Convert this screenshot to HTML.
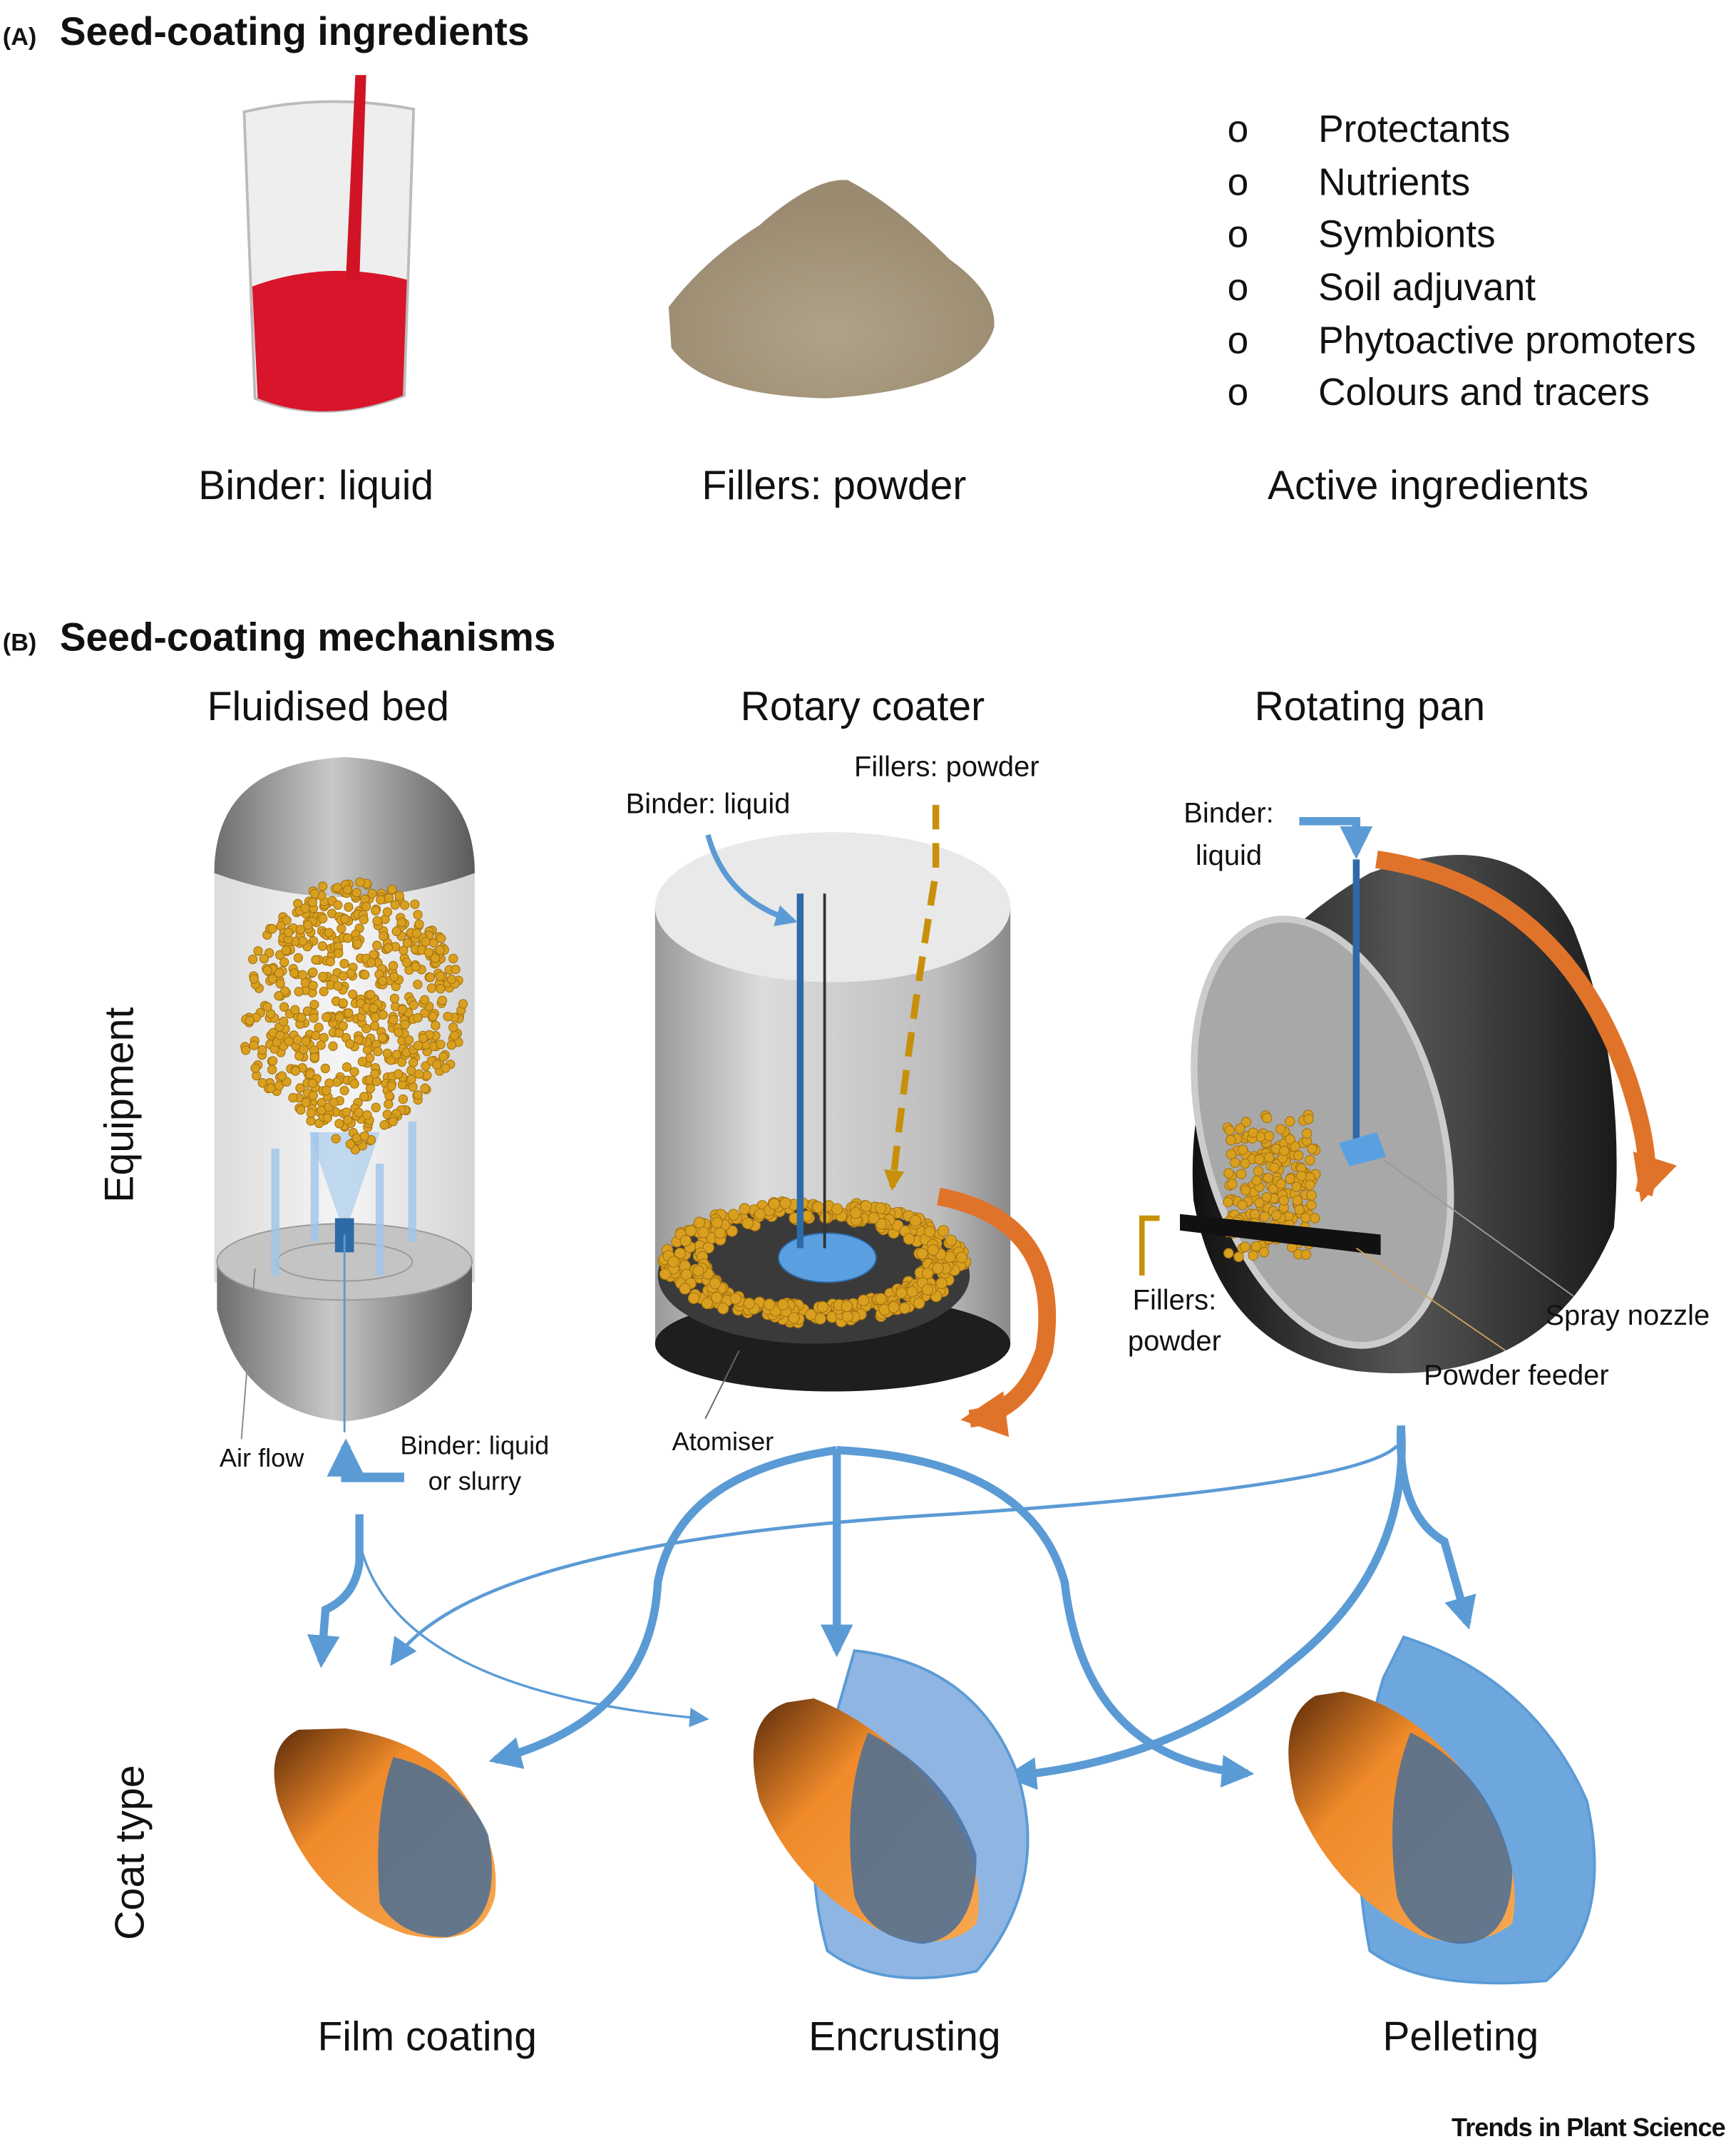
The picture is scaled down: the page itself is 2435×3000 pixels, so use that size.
<!DOCTYPE html>
<html><head><meta charset="utf-8">
<style>
html,body{margin:0;padding:0;background:#fff;}
svg{display:block;}
text{font-family:"Liberation Sans","DejaVu Sans",sans-serif;fill:#111;}
</style></head>
<body>
<svg id="s" width="2435" height="3000" viewBox="0 0 1280 1568" preserveAspectRatio="none" xmlns="http://www.w3.org/2000/svg">
<defs>
<linearGradient id="glass" x1="0" x2="1"><stop offset="0" stop-color="#d8d8d8"/><stop offset="0.5" stop-color="#f4f4f4"/><stop offset="1" stop-color="#cfcfcf"/></linearGradient>
<linearGradient id="metal" x1="0" x2="1"><stop offset="0" stop-color="#6e6e6e"/><stop offset="0.45" stop-color="#c8c8c8"/><stop offset="1" stop-color="#5a5a5a"/></linearGradient>
<linearGradient id="cyl" x1="0" x2="1"><stop offset="0" stop-color="#9a9a9a"/><stop offset="0.3" stop-color="#dcdcdc"/><stop offset="0.8" stop-color="#bdbdbd"/><stop offset="1" stop-color="#8a8a8a"/></linearGradient>
<linearGradient id="seed" x1="0" y1="0" x2="1" y2="1"><stop offset="0" stop-color="#5a2a08"/><stop offset="0.35" stop-color="#f08a2a"/><stop offset="1" stop-color="#f7a850"/></linearGradient>
<linearGradient id="ring" x1="0" x2="1"><stop offset="0" stop-color="#111"/><stop offset="0.5" stop-color="#555"/><stop offset="1" stop-color="#1a1a1a"/></linearGradient>
<radialGradient id="pow" cx="0.5" cy="0.7" r="0.6"><stop offset="0" stop-color="#b0a288"/><stop offset="1" stop-color="#9a8b70"/></radialGradient>
<marker id="ab" viewBox="0 0 10 10" refX="8" refY="5" markerWidth="4" markerHeight="4" orient="auto"><path d="M0,0 L10,5 L0,10 z" fill="#5b9bd5"/></marker>
<marker id="ao" viewBox="0 0 10 10" refX="8" refY="5" markerWidth="2.6" markerHeight="2.6" orient="auto"><path d="M0,0 L10,5 L0,10 z" fill="#e0732a"/></marker>
<marker id="ab2" viewBox="0 0 10 10" refX="8" refY="5" markerWidth="8" markerHeight="8" orient="auto"><path d="M0,0 L10,5 L0,10 z" fill="#5b9bd5"/></marker>
<marker id="ay" viewBox="0 0 10 10" refX="8" refY="5" markerWidth="3" markerHeight="3" orient="auto"><path d="M0,0 L10,5 L0,10 z" fill="#c8900a"/></marker>
</defs>

<!-- (A) -->
<text x="2" y="33" font-size="18" font-weight="bold">(A)</text>
<text x="44" y="33" font-size="29" font-weight="bold">Seed-coating ingredients</text>
<path d="M180,82 Q240,68 305,80 L298,290 Q240,312 188,292 Z" fill="#eeeeee" stroke="#bbb" stroke-width="2"/>
<path d="M186,210 Q240,190 300,205 L297,290 Q240,312 190,292 Z" fill="#d8152a"/>
<path d="M262,55 L270,55 L265,205 L255,205 Z" fill="#d01426"/>
<text x="233" y="366" font-size="30" text-anchor="middle">Binder: liquid</text>
<path d="M493,225 Q520,190 560,165 Q600,130 625,132 Q660,150 700,190 Q735,215 733,240 Q720,285 610,292 Q520,290 495,255 Z" fill="url(#pow)"/>
<text x="615" y="366" font-size="30" text-anchor="middle">Fillers: powder</text>
<g font-size="28">
<text x="905" y="104">o</text><text x="972" y="104">Protectants</text>
<text x="905" y="143">o</text><text x="972" y="143">Nutrients</text>
<text x="905" y="181">o</text><text x="972" y="181">Symbionts</text>
<text x="905" y="220">o</text><text x="972" y="220">Soil adjuvant</text>
<text x="905" y="259">o</text><text x="972" y="259">Phytoactive promoters</text>
<text x="905" y="297">o</text><text x="972" y="297">Colours and tracers</text>
</g>
<text x="1053" y="366" font-size="30" text-anchor="middle">Active ingredients</text>

<!-- (B) -->
<text x="2" y="477" font-size="18" font-weight="bold">(B)</text>
<text x="44" y="477" font-size="29" font-weight="bold">Seed-coating mechanisms</text>
<text x="242" y="528" font-size="30" text-anchor="middle">Fluidised bed</text>
<text x="636" y="528" font-size="30" text-anchor="middle">Rotary coater</text>
<text x="1010" y="528" font-size="30" text-anchor="middle">Rotating pan</text>
<text transform="translate(98,810) rotate(-90)" font-size="30" text-anchor="middle">Equipment</text>
<text transform="translate(106,1358) rotate(-90)" font-size="30" text-anchor="middle">Coat type</text>

<!-- fluidised bed -->
<rect x="158" y="630" width="192" height="310" fill="url(#glass)" opacity="0.9"/>
<path d="M158,640 Q158,560 254,555 Q350,560 350,640 Q254,675 158,640 Z" fill="url(#metal)"/>
<path d="M160,925 Q254,895 348,925 L348,960 Q330,1035 254,1042 Q178,1035 160,960 Z" fill="url(#metal)"/>
<ellipse cx="254" cy="925" rx="94" ry="28" fill="#c4c4c4" stroke="#999"/>
<ellipse cx="254" cy="925" rx="50" ry="14" fill="none" stroke="#999"/>
<path d="M254,905 L228,830 L280,830 Z" fill="#9fc6ea" opacity="0.6"/>
<rect x="247" y="893" width="14" height="25" fill="#2e6aa8"/>
<g stroke="#9fc6ea" stroke-width="6" fill="none" opacity="0.8">
<line x1="203" y1="935" x2="203" y2="842"/><line x1="280" y1="935" x2="280" y2="853"/><line x1="304" y1="910" x2="304" y2="822"/><line x1="232" y1="910" x2="232" y2="830"/></g>
<line x1="254" y1="905" x2="254" y2="1050" stroke="#5b9bd5" stroke-width="1.5"/>
<line x1="178" y1="1055" x2="188" y2="930" stroke="#888" stroke-width="1"/>
<g id="fbdots"></g>
<text x="193" y="1075" font-size="19" text-anchor="middle">Air flow</text>
<text x="350" y="1066" font-size="19" text-anchor="middle">Binder: liquid</text>
<text x="350" y="1092" font-size="19" text-anchor="middle">or slurry</text>
<path d="M298,1083 L255,1083 L255,1060" fill="none" stroke="#5b9bd5" stroke-width="7" marker-end="url(#ab)"/>

<!-- rotary coater -->
<rect x="483" y="665" width="262" height="318" fill="url(#cyl)"/>
<ellipse cx="614" cy="665" rx="131" ry="55" fill="#e9e9e9"/>
<ellipse cx="614" cy="985" rx="131" ry="35" fill="#1e1e1e"/>
<ellipse cx="600" cy="935" rx="115" ry="50" fill="#3a3a3a"/>
<g id="rcdots"></g>
<ellipse cx="610" cy="922" rx="36" ry="18" fill="#5aa0e0" stroke="#2e6aa8"/>
<line x1="590" y1="655" x2="590" y2="915" stroke="#2e6aa8" stroke-width="5"/>
<line x1="608" y1="655" x2="608" y2="915" stroke="#333" stroke-width="2"/>
<path d="M522,612 Q535,660 585,675" fill="none" stroke="#5b9bd5" stroke-width="4" marker-end="url(#ab)"/>
<path d="M690,590 L690,640 Q670,760 658,870" fill="none" stroke="#c8900a" stroke-width="5" stroke-dasharray="18,10" marker-end="url(#ay)"/>
<path d="M692,877 Q785,895 770,990 Q755,1035 715,1040" fill="none" stroke="#e0732a" stroke-width="13" marker-end="url(#ao)" />
<text x="522" y="596" font-size="21" text-anchor="middle">Binder: liquid</text>
<text x="698" y="569" font-size="21" text-anchor="middle">Fillers: powder</text>
<line x1="520" y1="1040" x2="545" y2="990" stroke="#666" stroke-width="1"/>
<text x="533" y="1063" font-size="19" text-anchor="middle">Atomiser</text>

<!-- rotating pan -->
<path d="M1010,640 Q1120,600 1160,680 Q1200,780 1190,900 Q1140,1020 1000,1005 Q900,990 880,880 Q870,720 1010,640 Z" fill="url(#ring)"/>
<ellipse cx="975" cy="830" rx="88" ry="160" transform="rotate(-15 975 830)" fill="#a8a8a8" stroke="#ccc" stroke-width="5"/>
<g id="rpdots"></g>
<line x1="1000" y1="630" x2="1000" y2="840" stroke="#2e6aa8" stroke-width="5"/>
<path d="M987,838 L1015,830 L1022,848 L995,855 Z" fill="#5aa0e0"/>
<path d="M870,890 L1018,905 L1018,920 L870,902 Z" fill="#111"/>
<path d="M958,602 L1000,602 L1000,625" fill="none" stroke="#5b9bd5" stroke-width="6" marker-end="url(#ab)"/>
<path d="M1015,630 Q1150,650 1200,790 Q1220,850 1212,875" fill="none" stroke="#e0732a" stroke-width="13" marker-end="url(#ao)"/>
<path d="M842,935 L842,893 L855,893" fill="none" stroke="#c8900a" stroke-width="4"/>
<line x1="1020" y1="850" x2="1160" y2="950" stroke="#999" stroke-width="1"/>
<line x1="1000" y1="915" x2="1110" y2="990" stroke="#c8a060" stroke-width="1"/>
<text x="906" y="603" font-size="21" text-anchor="middle">Binder:</text>
<text x="906" y="634" font-size="21" text-anchor="middle">liquid</text>
<text x="866" y="960" font-size="21" text-anchor="middle">Fillers:</text>
<text x="866" y="990" font-size="21" text-anchor="middle">powder</text>
<text x="1200" y="971" font-size="21" text-anchor="middle">Spray nozzle</text>
<text x="1118" y="1015" font-size="21" text-anchor="middle">Powder feeder</text>

<!-- connectors -->
<g fill="none" stroke="#5b9bd5">
<path d="M265,1110 L265,1145 Q262,1170 240,1180 L237,1218" stroke-width="6" marker-end="url(#ab)"/>
<path d="M265,1130 Q290,1240 520,1260" stroke-width="1.8" marker-end="url(#ab2)"/>
<path d="M1030,1060 Q1000,1090 700,1110 Q350,1130 290,1218" stroke-width="2.5" marker-end="url(#ab2)"/>
<path d="M617,1063 L617,1210" stroke-width="6" marker-end="url(#ab)"/>
<path d="M617,1063 Q500,1080 485,1160 Q480,1260 365,1290" stroke-width="6" marker-end="url(#ab)"/>
<path d="M617,1063 Q760,1070 785,1160 Q800,1290 920,1300" stroke-width="6" marker-end="url(#ab)"/>
<path d="M1033,1045 Q1040,1150 950,1220 Q870,1290 745,1302" stroke-width="6" marker-end="url(#ab)"/>
<path d="M1033,1045 Q1030,1110 1065,1130 L1082,1190" stroke-width="6" marker-end="url(#ab)"/>
</g>

<!-- seeds -->
<path d="M255,1267 Q305,1275 330,1300 Q370,1345 365,1390 Q355,1430 300,1418 Q230,1395 205,1320 Q195,1280 220,1268 Z" fill="url(#seed)"/>
<path d="M290,1288 Q340,1300 360,1345 Q372,1410 330,1420 Q295,1420 280,1395 Q275,1330 290,1288 Z" fill="#4a6f96" opacity="0.85"/>
<path d="M630,1210 Q720,1220 750,1300 Q775,1380 720,1445 Q650,1460 610,1430 Q590,1360 610,1280 Z" fill="#8fb6e3" stroke="#5b9bd5" stroke-width="2"/>
<path d="M600,1245 Q640,1260 680,1300 Q730,1360 720,1410 Q700,1430 660,1420 Q590,1390 560,1320 Q545,1260 580,1248 Z" fill="url(#seed)"/>
<path d="M640,1270 Q700,1300 720,1360 Q720,1420 680,1425 Q640,1420 630,1390 Q620,1320 640,1270 Z" fill="#4a6f96" opacity="0.85"/>
<path d="M1035,1200 Q1130,1230 1170,1320 Q1190,1410 1140,1452 Q1050,1460 1010,1430 Q990,1330 1020,1230 Z" fill="#6ea7de" stroke="#5b9bd5" stroke-width="2"/>
<path d="M990,1240 Q1040,1250 1080,1300 Q1125,1360 1115,1410 Q1090,1430 1050,1420 Q985,1390 955,1320 Q940,1260 970,1243 Z" fill="url(#seed)"/>
<path d="M1040,1270 Q1100,1300 1115,1370 Q1115,1425 1075,1425 Q1040,1420 1030,1390 Q1020,1320 1040,1270 Z" fill="#4a6f96" opacity="0.85"/>

<text x="315" y="1503" font-size="30" text-anchor="middle">Film coating</text>
<text x="667" y="1503" font-size="30" text-anchor="middle">Encrusting</text>
<text x="1077" y="1503" font-size="30" text-anchor="middle">Pelleting</text>
<text x="1272" y="1566" font-size="19" font-weight="bold" text-anchor="end" letter-spacing="-0.5">Trends in Plant Science</text>
</svg>
<script>
var ns="http://www.w3.org/2000/svg",seed=7;
function r(){seed=(seed*16807)%2147483647;return seed/2147483647;}
function dots(id,n,f){var g=document.getElementById(id);for(var i=0;i<n;i++){var p=f();var c=document.createElementNS(ns,"circle");c.setAttribute("cx",p[0]);c.setAttribute("cy",p[1]);c.setAttribute("r",p[2]||3.2);c.setAttribute("fill","#d9a020");c.setAttribute("stroke","#a87410");c.setAttribute("stroke-width","0.6");g.appendChild(c);}}
dots("fbdots",650,function(){var a=r()*6.283,d=Math.sqrt(r());var cy=745,ry=100,rx=82;var y=cy+Math.sin(a)*d*ry;var x=260+Math.cos(a)*d*rx*(y>790?1-(y-790)/80:1);return [x,y];});
dots("rcdots",420,function(){var a=r()*6.283,d=0.7+0.3*r();return [600+Math.cos(a)*d*112,925+Math.sin(a)*d*45,4];});
dots("rpdots",220,function(){return [905+r()*65,835+r()*90-((r()*20)),3.5];});
</script>
</body></html>
